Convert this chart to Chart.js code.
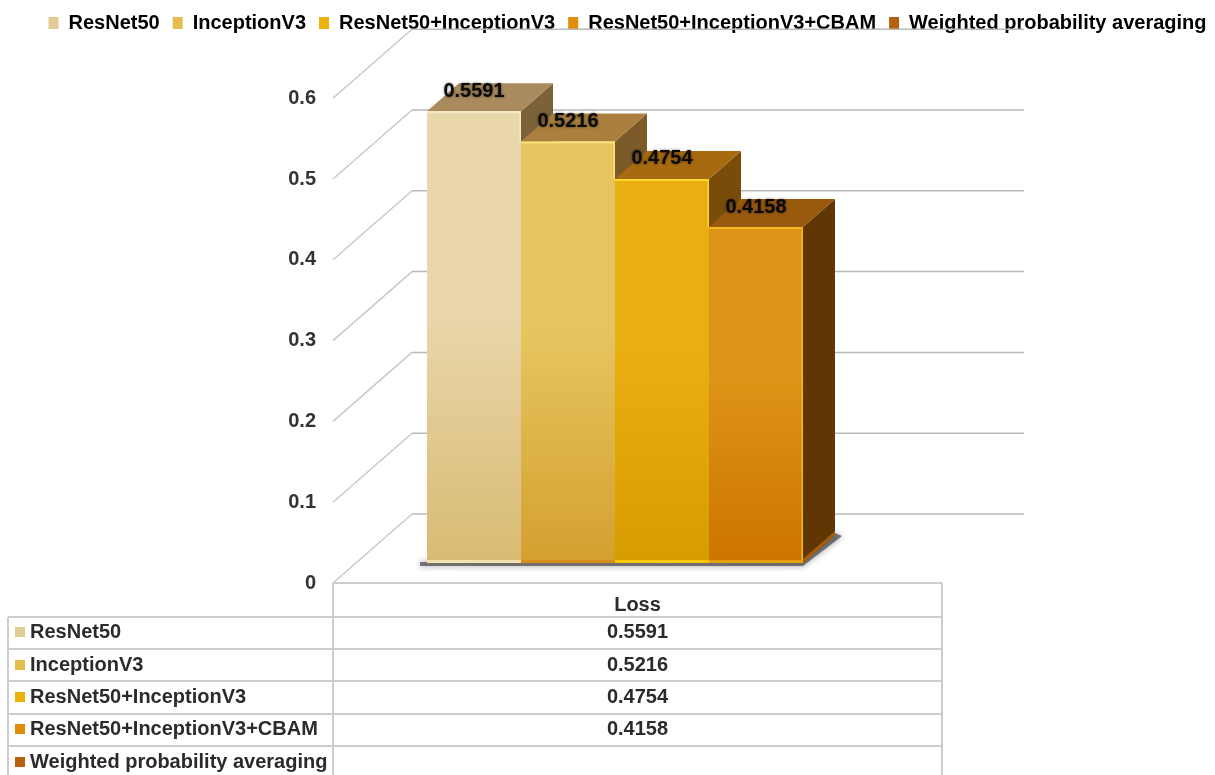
<!DOCTYPE html>
<html>
<head>
<meta charset="utf-8">
<title>Loss</title>
<script src="https://cdn.jsdelivr.net/npm/chart.js@4/dist/chart.umd.min.js"></script>
<style>
  html, body { margin: 0; padding: 0; background: #fff; }
  canvas { display: block; }
</style>
</head>
<body>
<canvas id="lossChart" width="1215" height="775"></canvas>
<script>
// ================= DATA =================
const categories = ["Loss"];
const modelNames = ["ResNet50", "InceptionV3", "ResNet50+InceptionV3", "ResNet50+InceptionV3+CBAM", "Weighted probability averaging"];
const lossValues = [0.5591, 0.5216, 0.4754, 0.4158, null];
const yTicks = [0, 0.1, 0.2, 0.3, 0.4, 0.5, 0.6];

// ================= COLOURS =================
const swatchColors = ["#E2CC96", "#E6BE50", "#EBB208", "#E08E0A", "#B5620E"];
const frontTop = ["#E9D6AB", "#E6C55F", "#E9AF12", "#DE9416", "#B5620E"];
const frontBottom = ["#D8BB72", "#D4A030", "#D69C00", "#CC7400", "#A05000"];
const topFace = ["#A98B5E", "#AB803E", "#A86A0E", "#9A5A0E", "#7A4408"];
const sideFace = ["#7C6238", "#7C5A2A", "#7A4C0A", "#5F3604", "#4A2800"];
const edgeLight = ["#F6EBC8", "#F7E27A", "#FBD92A", "#F5B81E", "#D08020"];
const edgeBase = ["#F3E2B0", "#D98E1C", "#F7C800", "#E9A010", "#D08020"];

// ================= GEOMETRY =================
const FONT = "'Liberation Sans', Arial, sans-serif";
const AREA_TOP = 30, AREA_BOTTOM = 583;
const PX_PER_UNIT = 808;
const BAR_LIFT = 20;   // bar base sits above the front edge of the floor
const WALL_LIFT = 69;  // back wall sits further up
const DEPTH_X = 79;    // floor depth
const BAR_DX = 32, BAR_DY = 28;  // extrusion of each bar
const WALL_RIGHT = 1024, FLOOR_RIGHT = 942;
const TABLE_LEFT = 8, TABLE_COL = 333;
const HEADER_TOP = 583;
const LEGEND_SHIFT = 20;
const rowLines = [617, 649, 681, 714, 746];
const areaRange = (AREA_BOTTOM - AREA_TOP) / PX_PER_UNIT;

function poly(ctx, pts, fill) {
  ctx.beginPath();
  ctx.moveTo(pts[0][0], pts[0][1]);
  pts.slice(1).forEach(p => ctx.lineTo(p[0], p[1]));
  ctx.closePath();
  ctx.fillStyle = fill;
  ctx.fill();
}

function line(ctx, x1, y1, x2, y2) {
  ctx.beginPath();
  ctx.moveTo(x1, y1);
  ctx.lineTo(x2, y2);
  ctx.stroke();
}

// the legend row runs wider than a centred box allows, nudge it right
// and let the descenders hang below its short box
const legendShiftPlugin = {
  id: "legendShift",
  afterLayout(chart) {
    chart.legend.left += LEGEND_SHIFT;
    chart.legend.right += LEGEND_SHIFT;
    chart.legend.bottom += 10;
  }
};

// ================= WALLS AND FLOOR =================
const wallPlugin = {
  id: "wall",
  beforeDatasetsDraw(chart) {
    const ctx = chart.ctx, front = chart.scales.y, wall = chart.scales.wall;
    const left = chart.chartArea.left;
    ctx.save();
    ctx.lineWidth = 1.5;
    yTicks.forEach(v => {
      const y0 = front.getPixelForValue(v), y1 = wall.getPixelForValue(v);
      ctx.strokeStyle = "#c9c9c9";
      line(ctx, left, y0, left + DEPTH_X, y1);
      ctx.strokeStyle = "#b9b9b9";
      line(ctx, left + DEPTH_X, y1, WALL_RIGHT, y1);
    });
    ctx.restore();
  }
};

// ================= 3D BAR FACES =================
const barFacesPlugin = {
  id: "barFaces",
  beforeDatasetsDraw(chart) {
    const ctx = chart.ctx;
    const bars = lossValues.map((v, i) => v === null ? null : chart.getDatasetMeta(i).data[0]).filter(Boolean);
    const last = bars[bars.length - 1];
    const r = last.x + last.width / 2, l = bars[0].x - bars[0].width / 2, b = last.base;

    // contact shadow along the base
    ctx.save();
    ctx.shadowColor = "rgba(0,0,0,0.6)";
    ctx.shadowBlur = 6;
    poly(ctx, [[l - 7, b + 3], [r, b + 3], [r + BAR_DX + 7, b - BAR_DY + 1], [r + BAR_DX, b - BAR_DY - 2], [r, b - 2], [l - 7, b - 1]], "rgba(60,60,60,0.65)");
    ctx.restore();

    bars.forEach((bar, i) => {
      const x0 = bar.x - bar.width / 2, x1 = bar.x + bar.width / 2, t = bar.y, base = bar.base;
      poly(ctx, [[x1, t], [x1 + BAR_DX, t - BAR_DY], [x1 + BAR_DX, base - BAR_DY], [x1, base]], sideFace[i]);
      poly(ctx, [[x0, t], [x0 + BAR_DX, t - BAR_DY], [x1 + BAR_DX, t - BAR_DY], [x1, t]], topFace[i]);
    });
    // orange sliver under the last side face
    poly(ctx, [[r, b], [r + BAR_DX, b - BAR_DY], [r + BAR_DX, b - BAR_DY - 4], [r, b - 4]], "#A85E08");
  },
  afterDatasetsDraw(chart) {
    const ctx = chart.ctx;
    const metas = lossValues.map((v, i) => v === null ? null : chart.getDatasetMeta(i).data[0]);
    ctx.save();
    lossValues.forEach((v, i) => {
      if (v === null) return;
      const bar = metas[i], next = metas[i + 1];
      const x0 = bar.x - bar.width / 2, x1 = bar.x + bar.width / 2;
      ctx.lineWidth = 2;
      ctx.strokeStyle = edgeLight[i];
      line(ctx, x0, bar.y + 1, x1, bar.y + 1);
      ctx.lineWidth = 1.5;
      // right rim stops where the next, lower bar starts
      line(ctx, x1 - 0.75, bar.y, x1 - 0.75, next ? next.y : bar.base);
      ctx.lineWidth = 3;
      ctx.strokeStyle = edgeBase[i];
      line(ctx, x0, bar.base - 1.5, x1, bar.base - 1.5);

      // value on the top face
      ctx.save();
      ctx.font = "bold 20px " + FONT;
      ctx.textAlign = "center";
      ctx.textBaseline = "middle";
      ctx.fillStyle = "#0a0a0a";
      ctx.shadowColor = "rgba(0,0,0,0.55)";
      ctx.shadowBlur = 3;
      ctx.fillText(v.toFixed(4), bar.x, bar.y - 20);
      ctx.restore();
    });
    ctx.restore();
  }
};

// ================= DATA TABLE =================
const tablePlugin = {
  id: "dataTable",
  afterDraw(chart) {
    const ctx = chart.ctx, H = chart.height;
    const midX = (TABLE_COL + FLOOR_RIGHT) / 2;
    ctx.save();
    ctx.strokeStyle = "#cdcdcd";
    ctx.lineWidth = 2;
    line(ctx, TABLE_COL, HEADER_TOP, FLOOR_RIGHT, HEADER_TOP);
    line(ctx, TABLE_COL, HEADER_TOP, TABLE_COL, H);
    line(ctx, FLOOR_RIGHT, HEADER_TOP, FLOOR_RIGHT, H);
    line(ctx, TABLE_LEFT, rowLines[0], TABLE_LEFT, H);
    rowLines.forEach(y => line(ctx, TABLE_LEFT, y, FLOOR_RIGHT, y));

    ctx.textBaseline = "middle";
    ctx.fillStyle = "#2b2b2b";
    ctx.textAlign = "center";
    ctx.font = "bold 20px " + FONT;
    ctx.fillText(categories[0], midX, 605);

    const rowMids = [632, 665, 697, 729, 762];
    modelNames.forEach((name, i) => {
      ctx.fillStyle = swatchColors[i];
      ctx.fillRect(15, rowMids[i] - 5, 10, 10);
      ctx.fillStyle = "#2b2b2b";
      ctx.textAlign = "left";
      ctx.fillText(name, 30, rowMids[i]);
      if (lossValues[i] !== null) {
        ctx.textAlign = "center";
        ctx.fillText(lossValues[i].toFixed(4), midX, rowMids[i]);
      }
    });
    ctx.restore();
  }
};

// ================= CHART =================
function frontGradient(i) {
  return c => {
    const chart = c.chart, s = chart.scales.bars;
    if (!chart.chartArea || !s || lossValues[i] === null) return frontTop[i];
    const top = s.getPixelForValue(lossValues[i]), bottom = s.getPixelForValue(0);
    if (!isFinite(top) || !isFinite(bottom)) return frontTop[i];
    const g = chart.ctx.createLinearGradient(0, top, 0, bottom);
    g.addColorStop(0, frontTop[i]);
    g.addColorStop(0.45, frontTop[i]);
    g.addColorStop(1, frontBottom[i]);
    return g;
  };
}

const barLift = BAR_LIFT / PX_PER_UNIT, wallLift = WALL_LIFT / PX_PER_UNIT;

new Chart(document.getElementById("lossChart"), {
  type: "bar",
  data: {
    labels: categories,
    datasets: modelNames.map((name, i) => ({
      label: name,
      data: [lossValues[i]],
      yAxisID: "bars",
      backgroundColor: frontGradient(i),
      borderWidth: 0,
      barPercentage: 1,
      categoryPercentage: 470 / 658
    }))
  },
  options: {
    responsive: false,
    animation: false,
    layout: { padding: { bottom: 775 - AREA_BOTTOM } },
    scales: {
      x: { display: false },
      y: {
        position: "left",
        min: 0,
        max: areaRange,
        afterBuildTicks: s => { s.ticks = yTicks.map(v => ({ value: v })); },
        afterFit: s => { s.width = TABLE_COL; },
        grid: { display: false },
        border: { display: false },
        ticks: {
          padding: 9,
          autoSkip: false,
          color: "#333",
          font: { family: FONT, size: 20, weight: "bold" },
          callback: v => String(v)
        }
      },
      wall: { display: false, position: "left", min: -wallLift, max: areaRange - wallLift },
      // carries the bars; its empty width also holds the room on the right
      bars: {
        position: "right",
        min: -barLift,
        max: areaRange - barLift,
        afterFit: s => { s.width = 224; },
        grid: { display: false },
        border: { display: false },
        ticks: { display: false }
      }
    },
    plugins: {
      tooltip: { enabled: false },
      legend: {
        position: "top",
        maxHeight: AREA_TOP,
        labels: {
          boxWidth: 10,
          boxHeight: 12,
          padding: 13,
          color: "#222",
          font: { family: FONT, size: 20, weight: "bold" },
          generateLabels: () => modelNames.map((name, i) => ({
            text: name, fillStyle: swatchColors[i], lineWidth: 0, strokeStyle: "transparent", datasetIndex: i
          }))
        }
      }
    }
  },
  plugins: [legendShiftPlugin, wallPlugin, barFacesPlugin, tablePlugin]
});
</script>
</body>
</html>
